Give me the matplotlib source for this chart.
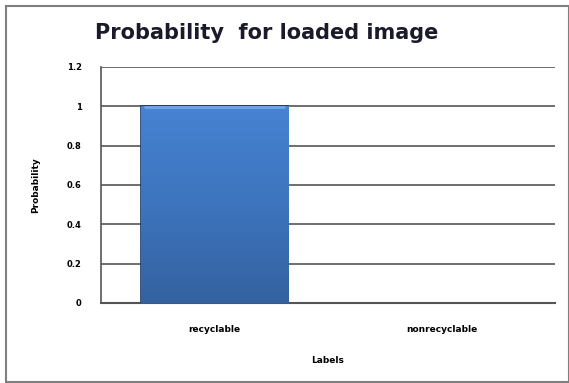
import matplotlib
matplotlib.use("Agg")
import matplotlib.pyplot as plt
import matplotlib.patches as mpatches
import numpy as np

labels = ["recyclable", "nonrecyclable"]
probs = [1.0, 0.0]
yticks = [0, 0.2, 0.4, 0.6, 0.8, 1, 1.2]
ytick_labels = ["0", "0.2", "0.4", "0.6", "0.8", "1", "1.2"]

W, H = 569, 383
fig = plt.figure(figsize=(W / 100, H / 100), dpi=100)
fig.patch.set_facecolor("white")

# cadre extérieur du graphique
fig.patches.append(mpatches.Rectangle((6 / W, 1 / H), (W - 6) / W, (H - 7) / H,
                                      transform=fig.transFigure, fill=False,
                                      edgecolor="#7f7f7f", linewidth=1.5))

ax = fig.add_axes([101 / W, 1 - 303 / H, 454 / W, 236 / H])
x = np.arange(len(labels))
bars = ax.bar(x, probs, width=0.65, color="#3f78c2",
              edgecolor="#1a3560", linewidth=1.2, zorder=3)

# dégradé vertical dans chaque barre
grad = np.linspace(0, 1, 256).reshape(-1, 1)
cmap = matplotlib.colors.LinearSegmentedColormap.from_list(
    "bleu", ["#3462a0", "#3d74bd", "#4683d2"])
for b in bars:
    if b.get_height() <= 0:
        b.set_linewidth(0)
        continue
    bx, by = b.get_x(), b.get_y()
    bw, bh = b.get_width(), b.get_height()
    im = ax.imshow(grad, cmap=cmap, aspect="auto", origin="lower",
                   extent=(bx, bx + bw, by, by + bh), zorder=3.5)
    im.set_clip_path(b)
    ax.plot([bx + bw * 0.03, bx + bw * 0.97], [by + bh * 0.995] * 2,
            color="#6fa6e8", linewidth=2, zorder=4, solid_capstyle="round")

ax.set_xlim(-0.5, len(labels) - 0.5)
ax.set_ylim(0, 1.2)
ax.set_yticks(yticks)
ax.set_yticklabels(ytick_labels, fontsize=6, fontweight="bold")
ax.set_xticks(x)
ax.set_xticklabels(labels, fontsize=6.5, fontweight="bold")
ax.tick_params(axis="both", length=0, pad=14)
ax.tick_params(axis="x", pad=16)
ax.yaxis.grid(True, color="#555555", linewidth=1.2, zorder=0)
ax.set_axisbelow(True)
for side in ["top", "right"]:
    ax.spines[side].set_visible(False)
ax.spines["left"].set_color("#555555")
ax.spines["left"].set_linewidth(1.2)
ax.spines["bottom"].set_color("#555555")
ax.spines["bottom"].set_linewidth(1.5)

ax.set_ylabel("Probability", fontsize=6.5, fontweight="bold", labelpad=19)
ax.set_xlabel("Labels", fontsize=6.5, fontweight="bold", labelpad=16)

fig.text(267 / W, 1 - 33 / H, "Probability  for loaded image", fontsize=15,
         fontweight="bold", color="#1a1a2a", ha="center", va="center")

fig.savefig("out.png", dpi=100)
